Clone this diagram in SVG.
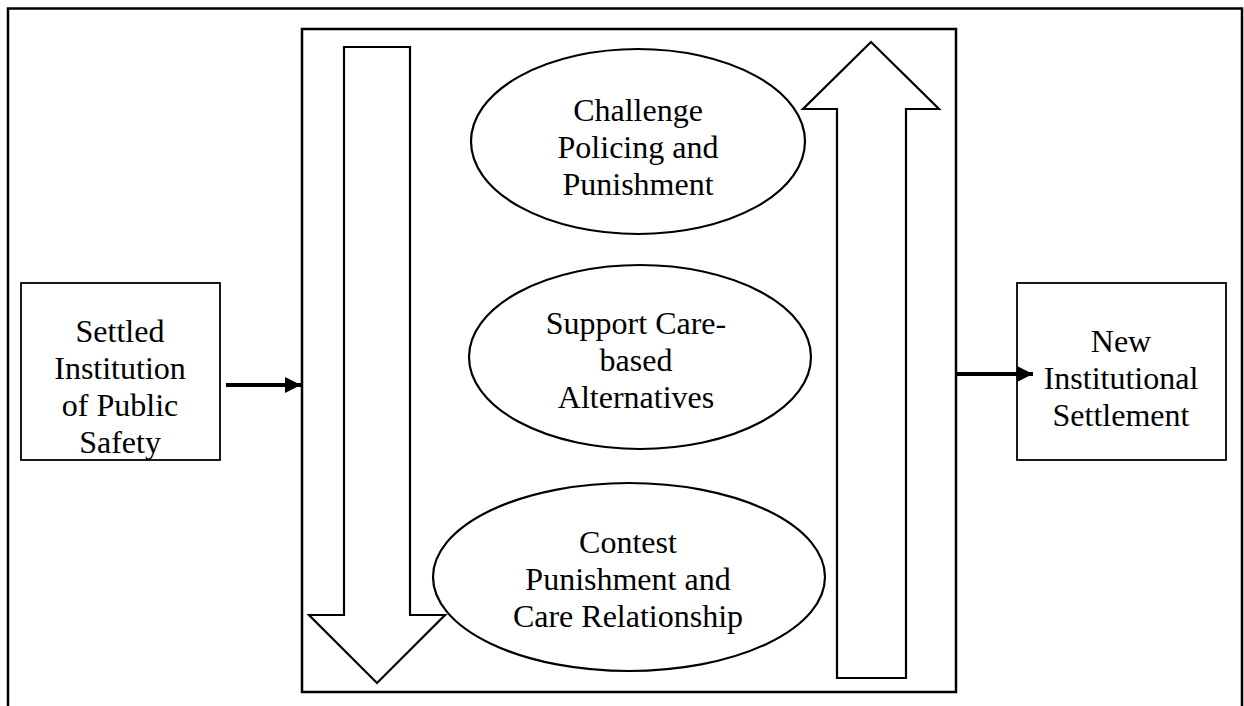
<svg xmlns="http://www.w3.org/2000/svg" width="1244" height="706" viewBox="0 0 1244 706">
  <style>
    .frame { fill: none; stroke: #000; stroke-width: 2.5; }
    .box { fill: #fff; stroke: #000; stroke-width: 1.8; }
    .shape { fill: #fff; stroke: #000; stroke-width: 2.2; stroke-linejoin: miter; }
    .label { font-family: "Liberation Serif", "Times New Roman", serif; font-size: 32px; fill: #000; text-anchor: middle; }
    .conn { stroke: #000; stroke-width: 4; fill: none; }
  </style>
  <defs>
    <marker id="head" viewBox="0 0 10 10" refX="10" refY="5" markerWidth="4" markerHeight="4" markerUnits="strokeWidth" orient="auto">
      <path d="M0,0 L10,5 L0,10 Z" fill="#000"/>
    </marker>
  </defs>

  <rect width="1244" height="706" fill="#fff"/>

  <!-- outer frame (open at the bottom) -->
  <path class="frame" d="M8,720 L8,8.5 L1242,8.5 L1242,720"/>

  <!-- central process panel -->
  <g id="process-panel">
    <rect class="frame" x="302" y="29" width="654" height="663"/>
  </g>

  <!-- block arrows inside the panel -->
  <g id="down-arrow">
    <path class="shape" d="M344,47 L410,47 L410,615 L445,615 L377,683 L309,615 L344,615 Z"/>
  </g>
  <g id="up-arrow">
    <path class="shape" d="M837,678 L837,109 L803,109 L871,42 L939,109 L906,109 L906,678 Z"/>
  </g>

  <!-- strategy ellipses -->
  <g id="challenge">
    <ellipse class="shape" cx="638" cy="141.5" rx="167" ry="92.5"/>
    <text class="label" x="638" y="121">Challenge</text>
    <text class="label" x="638" y="158">Policing and</text>
    <text class="label" x="638" y="195">Punishment</text>
  </g>
  <g id="support">
    <ellipse class="shape" cx="640" cy="357" rx="171" ry="92"/>
    <text class="label" x="636" y="334">Support Care-</text>
    <text class="label" x="636" y="371">based</text>
    <text class="label" x="636" y="408">Alternatives</text>
  </g>
  <g id="contest">
    <ellipse class="shape" cx="629" cy="577" rx="196" ry="94"/>
    <text class="label" x="628" y="553">Contest</text>
    <text class="label" x="628" y="590">Punishment and</text>
    <text class="label" x="628" y="627">Care Relationship</text>
  </g>

  <!-- start and end states -->
  <g id="settled">
    <rect class="box" x="21" y="283" width="199" height="177"/>
    <text class="label" x="120" y="342">Settled</text>
    <text class="label" x="120" y="379">Institution</text>
    <text class="label" x="120" y="416">of Public</text>
    <text class="label" x="120" y="453">Safety</text>
  </g>
  <g id="new-settlement">
    <rect class="box" x="1017" y="283" width="209" height="177"/>
    <text class="label" x="1121" y="352">New</text>
    <text class="label" x="1121" y="389">Institutional</text>
    <text class="label" x="1121" y="426">Settlement</text>
  </g>

  <!-- connectors -->
  <g id="connectors">
    <line class="conn" x1="226" y1="385" x2="301" y2="385" marker-end="url(#head)"/>
    <line class="conn" x1="957" y1="374" x2="1033" y2="374" marker-end="url(#head)"/>
  </g>
</svg>
